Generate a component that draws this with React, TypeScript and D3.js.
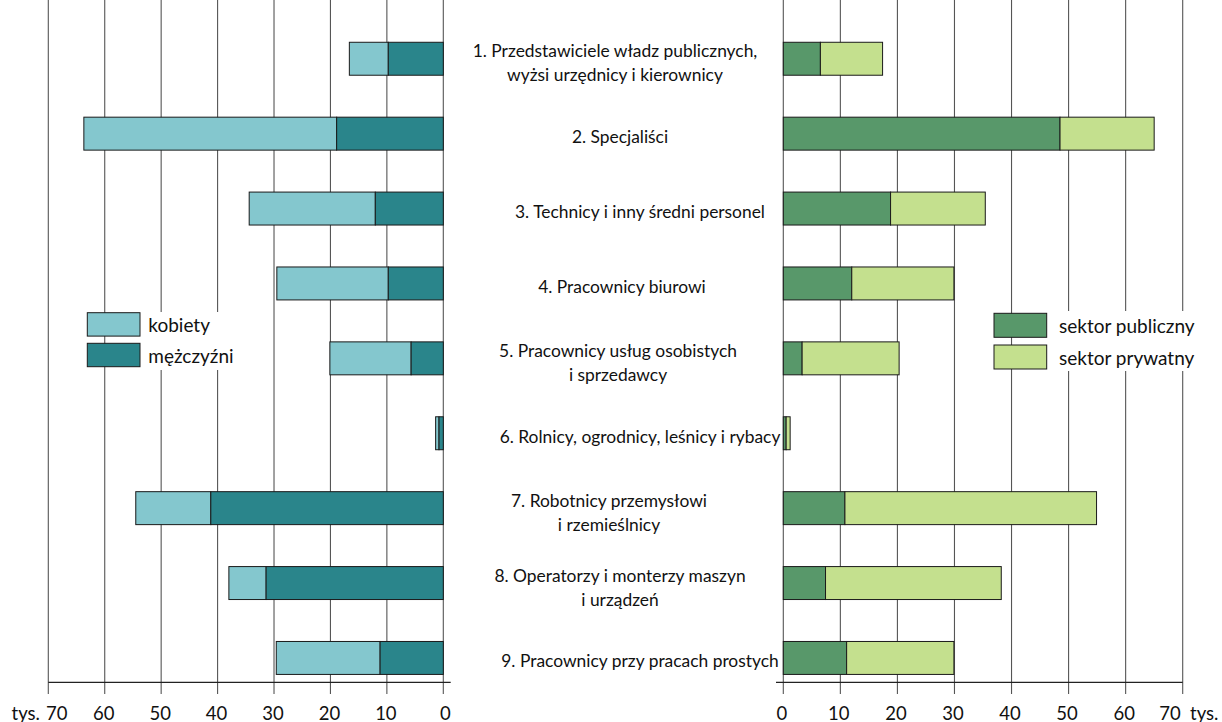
import React from "react";
import * as d3 from "d3";

const categories = [
  "1. Przedstawiciele władz publicznych,\nwyżsi urzędnicy i kierownicy",
  "2. Specjaliści",
  "3. Technicy i inny średni personel",
  "4. Pracownicy biurowi",
  "5. Pracownicy usług osobistych\ni sprzedawcy",
  "6. Rolnicy, ogrodnicy, leśnicy i rybacy",
  "7. Robotnicy przemysłowi\ni rzemieślnicy",
  "8. Operatorzy i monterzy maszyn\ni urządzeń",
  "9. Pracownicy przy pracach prostych",
];
const men = [9.75, 18.9, 12.05, 9.75, 5.7, 0.76, 41.2, 31.4, 11.2];
const women = [6.9, 44.8, 22.35, 19.75, 14.4, 0.6, 13.3, 6.6, 18.4];
const publicSector = [6.5, 48.5, 18.8, 12.0, 3.3, 0.5, 10.8, 7.4, 11.1];
const privateSector = [10.9, 16.5, 16.6, 17.9, 17.0, 0.7, 44.1, 30.8, 18.8];
const ticks = [0, 10, 20, 30, 40, 50, 60, 70];
const unitLabel = "tys.";
const genderLegend = ["kobiety", "mężczyźni"];
const sectorLegend = ["sektor publiczny", "sektor prywatny"];

// layout
const W = 1222;
const H = 722;
const labelX = [615, 620, 640, 622, 618, 640, 609, 620, 640];
const C = {
  women: "#84C7CE",
  men: "#2A858B",
  pub: "#58986A",
  priv: "#C4E08E",
  stroke: "#1a1a1a",
  grid: "#555",
};
const FONT = "Lato, 'Open Sans', sans-serif";

export default function App() {
  const xL = d3.scaleLinear().domain([0, 70]).range([443.3, 48.3]);
  const xR = d3.scaleLinear().domain([0, 70]).range([783.3, 1182.7]);
  const y = d3
    .scaleBand<string>()
    .domain(categories)
    .range([21.3, 695.4])
    .paddingInner(0.56)
    .paddingOuter(0.28);
  const bw = y.bandwidth();
  const axisY = 682.3;
  const tickBottom = 694;
  const labelBaseline = 719.5;
  const tickFs = 18.5;

  return (
    <svg
      width={W}
      height={H}
      style={{ position: "absolute", left: 0, top: 0, background: "#fff" }}
      fontFamily={FONT}
    >
      <rect x={0} y={0} width={W} height={H} fill="#fff" />
      {/* gridlines */}
      {ticks.map((t) => (
        <line key={"gl" + t} x1={xL(t)} x2={xL(t)} y1={0} y2={tickBottom} stroke={C.grid} strokeWidth={1.1} />
      ))}
      {ticks.map((t) => (
        <line key={"gr" + t} x1={xR(t)} x2={xR(t)} y1={0} y2={tickBottom} stroke={C.grid} strokeWidth={1.1} />
      ))}
      {/* axes */}
      <line x1={xL(70)} x2={xL(0) + 7.4} y1={axisY} y2={axisY} stroke="#222" strokeWidth={1.2} />
      <line x1={xR(0) - 7.3} x2={xR(70)} y1={axisY} y2={axisY} stroke="#222" strokeWidth={1.2} />

      {/* left bars */}
      {categories.map((c, i) => {
        const y0 = y(c)!;
        return (
          <g key={"l" + i}>
            <rect x={xL(men[i] + women[i])} y={y0} width={xL(men[i]) - xL(men[i] + women[i])} height={bw} fill={C.women} stroke={C.stroke} strokeWidth={1} />
            <rect x={xL(men[i])} y={y0} width={xL(0) - xL(men[i])} height={bw} fill={C.men} stroke={C.stroke} strokeWidth={1} />
          </g>
        );
      })}
      {/* right bars */}
      {categories.map((c, i) => {
        const y0 = y(c)!;
        return (
          <g key={"r" + i}>
            <rect x={xR(0)} y={y0} width={xR(publicSector[i]) - xR(0)} height={bw} fill={C.pub} stroke={C.stroke} strokeWidth={1} />
            <rect x={xR(publicSector[i])} y={y0} width={xR(publicSector[i] + privateSector[i]) - xR(publicSector[i])} height={bw} fill={C.priv} stroke={C.stroke} strokeWidth={1} />
          </g>
        );
      })}

      {/* category labels */}
      {categories.map((c, i) => {
        const lines = c.split("\n");
        const mid = y(c)! + bw / 2;
        const base = lines.length === 1 ? mid + 9.5 : mid - 1.5;
        return (
          <text key={"t" + i} x={labelX[i]} y={base} textAnchor="middle" fontSize={17.4} fill="#111">
            {lines.map((ln, j) => (
              <tspan key={j} x={labelX[i]} dy={j === 0 ? 0 : 24}>
                {ln}
              </tspan>
            ))}
          </text>
        );
      })}

      {/* tick labels */}
      {ticks.map((t) =>
        t === 70 ? (
          <text key={"tl" + t} x={xL(t) - 2.3} y={labelBaseline} textAnchor="start" fontSize={tickFs} fill="#111">
            {t}
          </text>
        ) : (
          <text key={"tl" + t} x={xL(t) + (t === 0 ? 2 : -1)} y={labelBaseline} textAnchor="middle" fontSize={tickFs} fill="#111">
            {t}
          </text>
        )
      )}
      <text x={40} y={labelBaseline} textAnchor="end" fontSize={tickFs} fill="#111">
        {unitLabel}
      </text>
      {ticks.map((t) =>
        t === 70 ? (
          <text key={"tr" + t} x={xR(t) - 2} y={labelBaseline} textAnchor="end" fontSize={tickFs} fill="#111">
            {t}
          </text>
        ) : (
          <text key={"tr" + t} x={xR(t) - 1.5} y={labelBaseline} textAnchor="middle" fontSize={tickFs} fill="#111">
            {t}
          </text>
        )
      )}
      <text x={1190} y={labelBaseline} textAnchor="start" fontSize={tickFs} fill="#111">
        {unitLabel}
      </text>

      {/* left legend */}
      <rect x={141} y={312} width={110} height={58} fill="#fff" />
      {genderLegend.map((l, i) => (
        <g key={"lg" + i}>
          <rect x={87.3} y={312.7 + i * 30.6} width={52.7} height={23.4} fill={i === 0 ? C.women : C.men} stroke={C.stroke} strokeWidth={1} />
          <text x={148.3} y={332 + i * 30.6} fontSize={19} fill="#111">
            {l}
          </text>
        </g>
      ))}
      {/* right legend */}
      <rect x={1052} y={311} width={165} height={60} fill="#fff" />
      {sectorLegend.map((l, i) => (
        <g key={"rg" + i}>
          <rect x={994} y={313.3 + i * 31.7} width={52.7} height={24} fill={i === 0 ? C.pub : C.priv} stroke={C.stroke} strokeWidth={1} />
          <text x={1059} y={333 + i * 31.7} fontSize={19} fill="#111">
            {l}
          </text>
        </g>
      ))}
    </svg>
  );
}
